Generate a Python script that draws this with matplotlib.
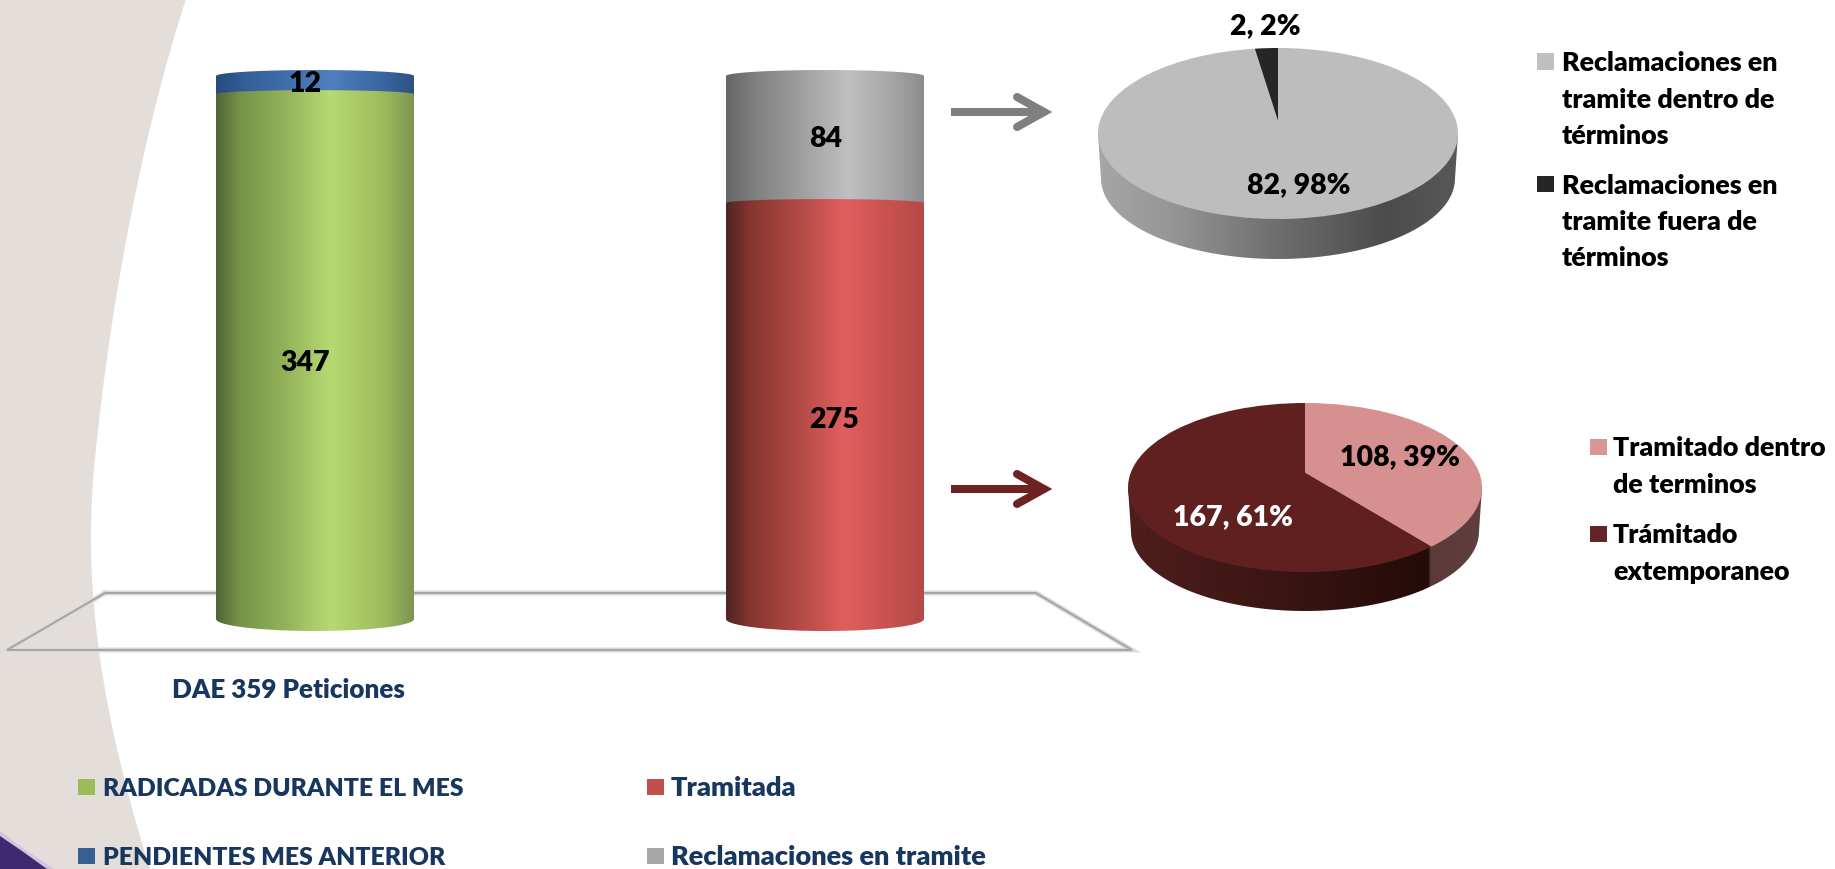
import numpy as np
import matplotlib
matplotlib.use("Agg")
import matplotlib.pyplot as plt
from matplotlib.colors import LinearSegmentedColormap
from matplotlib.path import Path
from matplotlib.patches import PathPatch, Rectangle

plt.rcParams['font.family'] = ['Lato', 'DejaVu Sans']

W, H = 1835, 870
NAVY = "#17375e"
WEIGHT = "heavy"

# bars
bar_names = ["RADICADAS DURANTE EL MES", "PENDIENTES MES ANTERIOR", "Tramitada", "Reclamaciones en tramite"]
left_vals = [347, 12]
right_vals = [275, 84]
bar_title = "DAE 359 Peticiones"

# pies
pie1_vals = [82, 2]
pie1_names = ["Reclamaciones en\ntramite dentro de\ntérminos", "Reclamaciones en\ntramite fuera de\ntérminos"]
pie2_vals = [108, 167]
pie2_names = ["Tramitado dentro\nde terminos", "Trámitado\nextemporaneo"]


def gradient(stops):
    return LinearSegmentedColormap.from_list("g", stops, N=512)


GREEN = gradient([(0, "#4f6535"), (.12, "#76934a"), (.35, "#93b35a"), (.58, "#b6da72"), (.85, "#9dbb5c"), (1, "#7c9650")])
BLUE = gradient([(0, "#284b7c"), (.15, "#345f98"), (.58, "#4f7fc0"), (.85, "#3a659f"), (1, "#2d5284")])
RED = gradient([(0, "#4f2523"), (.12, "#85352f"), (.35, "#b04844"), (.6, "#e05f5f"), (.88, "#c24f4c"), (1, "#b54a48")])
GREY = gradient([(0, "#666666"), (.15, "#808080"), (.62, "#c0c0c0"), (.85, "#a4a4a4"), (1, "#8c8c8c")])

fig = plt.figure(figsize=(W / 100, H / 100), dpi=100)

# page layer in pixel coordinates
bg = fig.add_axes([0, 0, 1, 1], zorder=0)
bg.set_xlim(0, W)
bg.set_ylim(H, 0)
bg.axis("off")

edge = [(186, 0), (150, 110), (112, 280), (94, 470), (86, 560), (90, 680), (150, 870), (0, 870), (0, 0), (186, 0)]
codes = [Path.MOVETO, Path.CURVE4, Path.CURVE4, Path.CURVE4, Path.CURVE4, Path.CURVE4, Path.CURVE4, Path.LINETO, Path.LINETO, Path.CLOSEPOLY]
bg.add_patch(PathPatch(Path(edge, codes), fc="#e4dedb", ec="none"))
bg.add_patch(PathPatch(Path([(0, 832), (24, 850), (54, 870), (0, 870), (0, 832)]), fc="#cfc5e0", ec="none"))
bg.add_patch(PathPatch(Path([(0, 837), (22, 852), (47, 870), (0, 870), (0, 837)]), fc="#3e2a70", ec="none"))

# floor of the chart
floor_x = [105, 1036, 1132, 7, 105]
floor_y = [594, 594, 651, 651, 594]
bg.plot(floor_x, floor_y, color="#dcdcdc", lw=3.6, solid_joinstyle="miter")
bg.plot(floor_x, floor_y, color="#a6a6a6", lw=1.5, solid_joinstyle="miter")

# stacked cylinders: y=0 at pixel 620, 359 at pixel 77
px_per_unit = (620 - 77) / 359
bar_left, bar_gap, bar_px = 315, 510, 198
ax = fig.add_axes([0, 0, 1, 1], zorder=1)
ax.set_xlim((0 - bar_left) / bar_gap, (W - bar_left) / bar_gap)
ax.set_ylim((620 - H) / px_per_unit, 620 / px_per_unit)
ax.axis("off")
ax.patch.set_alpha(0)


def cylinder(x, bottom, height, cmap, dome):
    # rectangle through ax.bar, then the shaded body clipped to its outline
    rect = ax.bar(x, height, bottom=bottom, width=bar_px / bar_gap, color="none")[0]
    x0, x1 = rect.get_x(), rect.get_x() + rect.get_width()
    y0, y1 = rect.get_y(), rect.get_y() + rect.get_height()
    t = np.linspace(0, np.pi, 60)
    cx, rx = (x0 + x1) / 2, (x1 - x0) / 2
    low = 12 / px_per_unit
    up = dome / px_per_unit
    xs = np.r_[cx - rx * np.cos(t), cx + rx * np.cos(t)]
    ys = np.r_[y0 - low * np.sin(t), y1 + up * np.sin(t)]
    clip = PathPatch(Path(np.c_[xs, ys]), transform=ax.transData, fc="none", ec="none")
    ax.add_patch(clip)
    im = ax.imshow(np.linspace(0, 1, 256)[None, :], cmap=cmap, aspect="auto",
                   extent=[x0, x1, y0 - low, y1 + up], zorder=3 + 1 / (1 + bottom))
    im.set_clip_path(clip)


ax.set_autoscale_on(False)
for x, vals, maps in [(0, left_vals, [GREEN, BLUE]), (1, right_vals, [RED, GREY])]:
    bottom = 0
    for i, (v, cm) in enumerate(zip(vals, maps)):
        cylinder(x, bottom, v, cm, 4 if i == 0 else 6)
        bottom += v

LABEL = 20.5
nudge = {347: (-10, -5), 12: (-10, 2.5), 275: (9, -8), 84: (1, 2)}
for x, vals in [(0, left_vals), (1, right_vals)]:
    bottom = 0
    for v in vals:
        dx, dy = nudge[v]
        ax.text(x + dx / bar_gap, bottom + v / 2 + dy / px_per_unit, str(v), ha="center", va="center",
                fontsize=LABEL, fontweight=WEIGHT, color="black", zorder=6)
        bottom += v

bg.text(172, 690, bar_title, color=NAVY, fontsize=18.7, fontweight=WEIGHT, va="center")


# pies with a little perspective
def pie3d(vals, colors, cx, cy, rx, ry, apex, depth, side_cmap, labels):
    a = apex / ry
    pax = fig.add_axes([(cx - rx) / W, 1 - (cy + ry) / H, 2 * rx / W, 2 * ry / H], zorder=2)
    wedges, _ = pax.pie(vals, colors=colors, startangle=90, counterclock=False, radius=1)
    pax.set_aspect("auto")
    pax.set_xlim(-1, 1)
    pax.set_ylim(-1, 1)
    pax.patch.set_alpha(0)
    for w in wedges:
        p = w.get_patch_transform().transform_path(w.get_path())
        x, y = p.vertices[:, 0], p.vertices[:, 1]
        d = 1 + a * y
        v = np.c_[x * np.sqrt(1 - a * a) / d, (y + a) / d]
        w.set_visible(False)
        pax.add_patch(PathPatch(Path(v, p.codes), fc=w.get_facecolor(), ec="none", clip_on=False))
    # side wall
    t = np.linspace(0, np.pi, 100)
    rl = rx - 3
    ryl = ry - 5
    cyl = cy + depth + 5
    xs = np.r_[cx + rl * np.cos(t), cx - rx, cx + rx]
    ys = np.r_[cyl + ryl * np.sin(t), cy, cy]
    clip = PathPatch(Path(np.c_[xs, ys]), transform=bg.transData, fc="none", ec="none")
    bg.add_patch(clip)
    im = bg.imshow(np.linspace(0, 1, 512)[None, :], cmap=side_cmap, aspect="auto",
                   extent=[cx - rx, cx + rx, cy + depth + ry + 2, cy], zorder=2)
    im.set_clip_path(clip)
    bg.set_xlim(0, W)
    bg.set_ylim(H, 0)
    for v, (lx, ly), col in labels:
        pct = round(100 * v / sum(vals))
        fig.text(lx / W, 1 - ly / H, f"{v}, {pct}%", ha="center", va="center", fontsize=LABEL,
                 fontweight=WEIGHT, color=col, zorder=5)


SIDE1 = gradient([(0, "#a6a6a6"), (.2, "#969696"), (.5, "#6e6e6e"), (.8, "#4c4c4c"), (1, "#585858")])
SIDE2 = gradient([(0, "#4e1e1c"), (.4, "#3c1614"), (.85, "#230b09"), (.855, "#5b3b39"), (1, "#5f3f3d")])

pie3d(pie1_vals, ["#bdbdbd", "#262626"], 1278, 134.5, 180, 85.5, 12.5, 40, SIDE1,
      [(82, (1299, 185), "black"), (2, (1265, 26), "black")])
pie3d(pie2_vals, ["#d69090", "#602020"], 1305, 488.5, 177, 84.5, 15, 39, SIDE2,
      [(108, (1400, 457), "black"), (167, (1233, 517), "white")])

# arrows
for ya, col in [(113, "#7f7f7f"), (490, "#6f2222")]:
    bg.plot([951, 1044], [ya, ya], color=col, lw=5.8, solid_capstyle="butt", zorder=3)
    bg.plot([1017, 1044, 1017], [ya - 15, ya, ya + 15], color=col, lw=5.8,
            solid_capstyle="round", solid_joinstyle="miter", zorder=3)


# legends
def legend_item(x, y, size, text_x, col, text, color="black", fs=19.4, steps=(36.5, 36.5)):
    bg.add_patch(Rectangle((x, y - size / 2), size, size, fc=col, ec="none", zorder=4))
    yy = y + 8.5
    for i, line in enumerate(text.split("\n")):
        bg.text(text_x, yy, line, color=color, fontsize=fs, fontweight=WEIGHT, va="baseline", zorder=4)
        yy += steps[min(i, 1)]


legend_item(78, 788, 16.5, 103, "#9bbb59", bar_names[0], NAVY, 17.8)
legend_item(78, 857, 16.5, 103, "#376092", bar_names[1], NAVY, 17.8)
legend_item(647, 788, 16.5, 671, "#c0504d", bar_names[2], NAVY, 19.5)
legend_item(647, 857, 16.5, 671, "#a6a6a6", bar_names[3], NAVY, 19.5)

legend_item(1537, 62.5, 16.5, 1562, "#bfbfbf", pie1_names[0])
legend_item(1537, 185, 16.5, 1562, "#262626", pie1_names[1])
legend_item(1590, 448, 16.5, 1613, "#d99694", pie2_names[0])
legend_item(1590, 535, 16.5, 1613, "#632523", pie2_names[1])

fig.savefig("out.png", dpi=100)
